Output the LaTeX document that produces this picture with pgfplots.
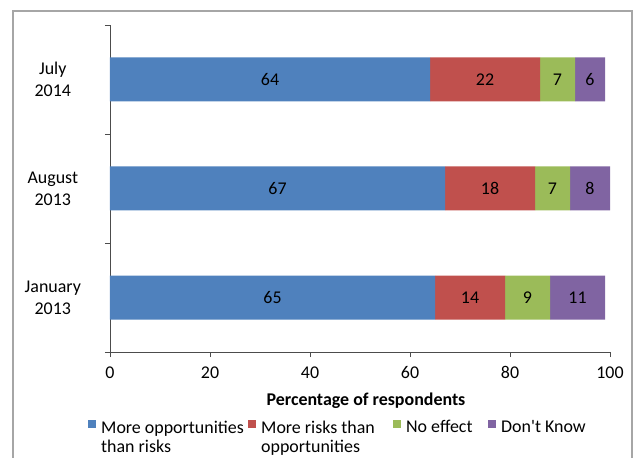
\documentclass[border=0pt]{standalone}
\usepackage{pgfplots}
\pgfplotsset{compat=1.18}
\usepackage{fontspec}
\setmainfont{Carlito}
\definecolor{exblue}{HTML}{4F81BD}
\definecolor{exred}{HTML}{C0504D}
\definecolor{exgreen}{HTML}{9BBB59}
\definecolor{expurple}{HTML}{8064A2}
\newcommand{\chartfont}{\fontsize{18}{22}\selectfont}
\newcommand{\legendfont}{\fontsize{18}{19.5}\selectfont}
\begin{document}
\begin{tikzpicture}
\path[use as bounding box] (-110bp,-106bp) rectangle (529bp,352bp);
% outer chart frame
\draw[color=black!35, line width=1.5bp] (-97bp,-130bp) -- (-97bp,341bp) -- (522bp,341bp) -- (522bp,-130bp);
\begin{axis}[
  scale only axis, width=500bp, height=327bp,
  xbar stacked, bar width=44bp,
  xmin=0, xmax=100, ymin=-0.5, ymax=2.5,
  axis x line*=bottom, axis y line*=left,
  axis line style={black!70, line width=0.8bp},
  tick style={black!70, line width=0.8bp},
  tick align=outside, major tick length=5bp,
  xtick={0,20,...,100},
  ytick={-0.5,0.5,1.5,2.5}, yticklabels={},
  extra y ticks={0,1,2},
  extra y tick labels={{January\\2013},{August\\2013},{July\\2014}},
  extra y tick style={major tick length=0pt},
  yticklabel style={align=center, text width=114bp, inner sep=0pt, font=\chartfont},
  xticklabel style={font=\chartfont, yshift=-6bp},
  /pgf/number format/assume math mode=true,
  xlabel={\textbf{Percentage of respondents}},
  xlabel style={font=\chartfont, xshift=6bp, yshift=-7bp},
  point meta=explicit,
  nodes near coords,
  every node near coord/.append style={anchor=center, font=\chartfont, text=black},
  legend columns=4,
  legend cell align=left,
  legend style={at={(axis description cs:-0.044,-0.203)}, anchor=north west, draw=none, fill=none, inner sep=0pt, font=\legendfont,
    /tikz/every odd column/.append style={column sep=3bp}},
  legend image code/.code={\fill[#1] (0bp,0bp) rectangle (8bp,8bp);},
]
% x: share of respondents, y: survey (0 = Jan 2013, 1 = Aug 2013, 2 = Jul 2014)
\addplot[fill=exblue, draw=none] table[x=v, y=s, meta=v, row sep=\\] {s v\\ 0 65\\ 1 67\\ 2 64\\};
\addplot[fill=exred, draw=none] table[x=v, y=s, meta=v, row sep=\\] {s v\\ 0 14\\ 1 18\\ 2 22\\};
\addplot[fill=exgreen, draw=none] table[x=v, y=s, meta=v, row sep=\\] {s v\\ 0 9\\ 1 7\\ 2 7\\};
\addplot[fill=expurple, draw=none] table[x=v, y=s, meta=v, row sep=\\] {s v\\ 0 11\\ 1 8\\ 2 6\\};
\addlegendentry{\parbox[t]{145bp}{\raggedright More opportunities\\than risks}}
\addlegendentry{\parbox[t]{130bp}{\raggedright More risks than\\opportunities}}
\addlegendentry{\parbox[t]{80bp}{\raggedright No effect}}
\addlegendentry{\parbox[t]{100bp}{\raggedright Don\textquotesingle t Know}}
\end{axis}
\end{tikzpicture}
\end{document}
